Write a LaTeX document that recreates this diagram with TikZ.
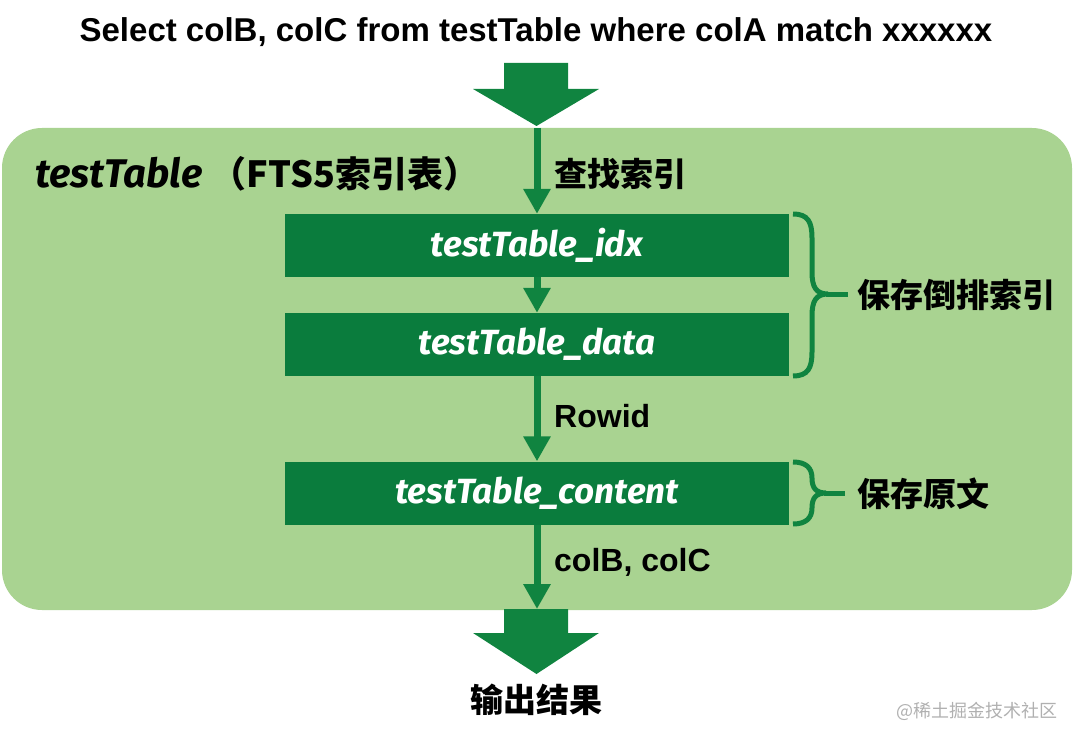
\documentclass[tikz,border=0pt]{standalone}
\usepackage{fontspec}
\setmainfont{Liberation Sans}
\newfontfamily\cjk{Noto Sans CJK SC}
\newfontfamily\fira{Fira Sans}
\usetikzlibrary{arrows.meta}
\definecolor{dkgreen}{RGB}{10,124,61}
\definecolor{arrgreen}{RGB}{16,132,64}
\definecolor{ltgreen}{RGB}{169,211,145}
\definecolor{wmgray}{RGB}{176,176,176}
\tikzset{
  boxnode/.style={fill=dkgreen, minimum width=504pt, minimum height=63pt, inner sep=0pt,
    text=white, font=\fira\bfseries\itshape\fontsize{35}{40}\selectfont},
  thinarrow/.style={draw=arrgreen, line width=7pt, -{Triangle[width=26pt,length=25pt]}, shorten >=0pt},
  lbl/.style={inner sep=0pt, font=\bfseries\fontsize{32}{36}\selectfont, text=black},
  cjklbl/.style={inner sep=0pt, font=\cjk\bfseries\fontsize{33}{37}\selectfont, text=black},
  bracepath/.style={draw=arrgreen, line width=5pt},
  bigarrow/.style={fill=arrgreen}
}
\begin{document}
\begin{tikzpicture}[x=1pt,y=-1pt]
\useasboundingbox (0,0) rectangle (1080,741);
\fill[ltgreen, rounded corners=40pt] (2,128) rectangle (1072,610);
\node[lbl, font=\bfseries\fontsize{33}{38}\selectfont] (title) at (536,32) {Select colB, colC from testTable where colA match xxxxxx};
% big top arrow
\fill[bigarrow] (504,63) -- (568,63) -- (568,89) -- (599,89) -- (536.5,126) -- (473,89) -- (504,89) -- cycle;
% heading
\node[inner sep=0pt, anchor=west] (head) at (35,174) {{\fira\bfseries\itshape\fontsize{40}{44}\selectfont testTable}\hspace{8pt}{\cjk\bfseries\fontsize{36}{40}\selectfont （FTS5索引表）}};
% boxes
\node[boxnode] (idx) at (537,245.5) {testTable\_idx};
\node[boxnode] (data) at (537,344.5) {testTable\_data};
\node[boxnode] (content) at (537,493) {testTable\_content};
\coordinate (in) at (537,128);
\coordinate (out) at (537,609);
\draw[thinarrow] (in) -- (idx.north);
\draw[thinarrow] (idx.south) -- (data.north);
\draw[thinarrow] (data.south) -- (content.north);
\draw[thinarrow] (content.south) -- (out);
% bottom big arrow
\fill[bigarrow] (504,609) -- (568,609) -- (568,633) -- (599,633) -- (536.5,674) -- (473,633) -- (504,633) -- cycle;
% labels
\node[cjklbl, anchor=west] (l1) at (554,174) {查找索引};
\node[lbl, anchor=west] (l2) at (554,416) {Rowid};
\node[lbl, anchor=west] (l3) at (554,562) {colB, colC};
\node[cjklbl] (result) at (536,700) {输出结果};
% braces
\draw[bracepath] (793,214) .. controls (808,214) and (812,222) .. (812,238) -- (812,272) .. controls (812,287) and (816,294) .. (828,294) .. controls (816,294) and (812,301) .. (812,316) -- (812,352) .. controls (812,368) and (808,376) .. (793,376);
\draw[bracepath] (826,294) -- (848,294);
\node[cjklbl, anchor=west] (b1) at (857,295) {保存倒排索引};
\draw[bracepath] (793,462) .. controls (806,462) and (812,468) .. (812,478) .. controls (812,488) and (816,493) .. (826,493) .. controls (816,493) and (812,498) .. (812,508) .. controls (812,518) and (806,524) .. (793,524);
\draw[bracepath] (824,493) -- (845,493);
\node[cjklbl, anchor=west] (b2) at (857,494) {保存原文};
% watermark
\node[inner sep=0pt, anchor=east, text=wmgray, font=\cjk\fontsize{18}{20}\selectfont] (wm) at (1058,711) {@稀土掘金技术社区};
\end{tikzpicture}
\end{document}
